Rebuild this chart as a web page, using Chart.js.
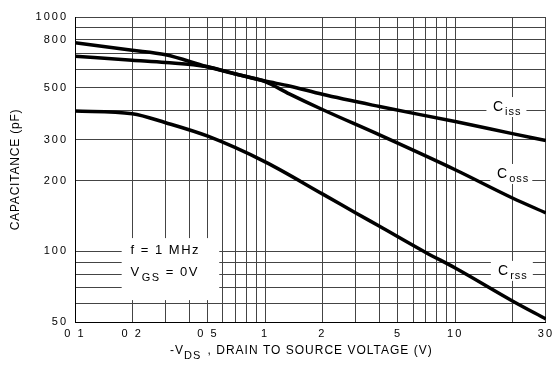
<!DOCTYPE html>
<html>
<head>
<meta charset="utf-8">
<script src="https://cdn.jsdelivr.net/npm/chart.js@4"></script>
<style>
  body { margin: 0; background: #fff; }
  #wrap { width: 557px; height: 367px; }
</style>
</head>
<body>
<div id="wrap"><canvas id="capChart" width="557" height="367"></canvas></div>
<script>
// curves (V, pF)
const issV = [0.1, 0.2, 0.3, 0.49, 0.7, 1, 1.34, 2, 4, 10, 20, 30];
const issC = [776, 722, 690, 615, 571, 533, 508, 468, 415, 358, 318, 297];
const ossV = [0.1, 0.2, 0.3, 0.49, 0.7, 1, 1.34, 2, 4, 10, 20, 30];
const ossC = [680, 654, 640, 615, 571, 530, 470, 403, 314, 223, 169, 146];
const rssV = [0.1, 0.2, 0.3, 0.5, 1, 2, 3, 4, 7, 10, 20, 30];
const rssC = [397, 387, 354, 310, 241, 176, 146, 128, 99, 85, 61.5, 51.5];

// grid and tick labels
const xGrid = [0.1, 0.2, 0.3, 0.4, 0.5, 0.6, 0.7, 0.8, 0.9, 1, 2, 3, 4, 5, 6, 7, 8, 9, 10, 20, 30];
const xTickVals = [0.1, 0.2, 0.5, 1, 2, 5, 10, 30];
const xTickText = ['0 1', '0 2', '0 5', '1', '2', '5', '10', '30'];
const yGrid = [50, 60, 70, 80, 90, 100, 200, 300, 400, 500, 600, 700, 800, 900, 1000];
const yTickVals = [50, 100, 200, 300, 500, 800, 1000];
const yTickText = ['50', '100', '200', '300', '500', '800', '1000'];

const FONT = '"Liberation Sans", Arial, Helvetica, sans-serif';

function pts(xs, ys) {
  return xs.map((v, i) => ({ x: v, y: ys[i] }));
}

function labelFor(vals, texts, v) {
  const i = vals.findIndex(t => Math.abs(t - v) < 1e-9);
  return i < 0 ? '' : texts[i];
}

function curve(data) {
  return {
    data: data,
    borderColor: '#000',
    borderWidth: 3.5,
    pointRadius: 0,
    fill: false,
    cubicInterpolationMode: 'monotone'
  };
}

// text with a subscript, left aligned at x, main text centred on y
function subText(ctx, x, y, main, sub, size, subSize, gap) {
  ctx.font = size + 'px ' + FONT;
  ctx.textAlign = 'left';
  ctx.textBaseline = 'middle';
  ctx.fillText(main, x, y);
  const w = ctx.measureText(main).width;
  ctx.font = subSize + 'px ' + FONT;
  ctx.fillText(sub, x + w + gap, y + 5);
  return x + w + gap + ctx.measureText(sub).width;
}

const spacingPlugin = {
  id: 'spacing',
  beforeDraw(chart) {
    chart.ctx.letterSpacing = '2px';
  }
};

const notesPlugin = {
  id: 'notes',
  beforeDatasetsDraw(chart) {
    const ctx = chart.ctx;
    const xs = chart.scales.x, ys = chart.scales.y;
    const px = v => xs.getPixelForValue(v);
    const py = v => ys.getPixelForValue(v);
    ctx.save();
    ctx.fillStyle = '#fff';
    // test conditions box
    ctx.fillRect(px(0.176), py(114), px(0.574) - px(0.176), py(62) - py(114));
    // curve label backgrounds
    ctx.fillRect(px(14.6), py(413) - 10, 40, 20);
    ctx.fillRect(px(15.3), py(214) - 10, 42, 20);
    ctx.fillRect(px(15.4), py(82.6) - 10, 42, 20);

    ctx.fillStyle = '#000';
    ctx.letterSpacing = '1px';
    subText(ctx, px(15.8), py(413), 'C', 'iss', 14, 11, 1);
    subText(ctx, px(16.6), py(214), 'C', 'oss', 14, 11, 1);
    subText(ctx, px(16.8), py(82.6), 'C', 'rss', 14, 11, 1);

    ctx.letterSpacing = '1.5px';
    ctx.font = '13px ' + FONT;
    ctx.textAlign = 'left';
    ctx.textBaseline = 'middle';
    ctx.fillText('f = 1 MHz', px(0.196), py(100.5));
    const e = subText(ctx, px(0.196), py(81), 'V', 'GS', 13, 11, 1);
    ctx.font = '13px ' + FONT;
    ctx.textBaseline = 'middle';
    ctx.fillText(' = 0V', e, py(81));
    ctx.restore();
  },
  afterDraw(chart) {
    const ctx = chart.ctx;
    const ca = chart.chartArea;
    ctx.save();
    ctx.fillStyle = '#000';
    ctx.letterSpacing = '0.8px';
    // y title
    ctx.save();
    ctx.translate(16, (ca.top + ca.bottom) / 2);
    ctx.rotate(-Math.PI / 2);
    ctx.font = '12px ' + FONT;
    ctx.textAlign = 'center';
    ctx.textBaseline = 'middle';
    ctx.fillText('CAPACITANCE (pF)', 0, 0);
    ctx.restore();
    // x title
    ctx.letterSpacing = '1px';
    let x = subText(ctx, 170, 351, '-V', 'DS', 12, 11, 0);
    ctx.font = '12px ' + FONT;
    ctx.textBaseline = 'middle';
    ctx.fillText(' , DRAIN TO SOURCE VOLTAGE (V)', x + 2, 351);
    ctx.restore();
  }
};

new Chart(document.getElementById('capChart'), {
  type: 'line',
  data: {
    datasets: [curve(pts(issV, issC)), curve(pts(ossV, ossC)), curve(pts(rssV, rssC))]
  },
  options: {
    responsive: false,
    animation: false,
    events: [],
    layout: { padding: { left: 0, top: 17, right: 9, bottom: 0 } },
    plugins: { legend: { display: false }, tooltip: { enabled: false } },
    scales: {
      x: {
        type: 'logarithmic',
        min: 0.1,
        max: 30,
        afterBuildTicks: s => { s.ticks = xGrid.map(v => ({ value: v })); },
        afterFit: s => { s.height = 45; },
        grid: { color: '#444', lineWidth: 1, drawTicks: false },
        border: { color: '#000', width: 1 },
        ticks: {
          autoSkip: false,
          maxRotation: 0,
          padding: 5,
          color: '#000',
          font: { family: FONT, size: 11 },
          callback: v => labelFor(xTickVals, xTickText, v)
        }
      },
      y: {
        type: 'logarithmic',
        min: 50,
        max: 1000,
        afterBuildTicks: s => { s.ticks = yGrid.map(v => ({ value: v })); },
        afterFit: s => { s.width = 75; },
        grid: { color: '#444', lineWidth: 1, drawTicks: false },
        border: { color: '#000', width: 1 },
        ticks: {
          autoSkip: false,
          padding: 7,
          color: '#000',
          font: { family: FONT, size: 11 },
          callback: v => labelFor(yTickVals, yTickText, v)
        }
      }
    }
  },
  plugins: [spacingPlugin, notesPlugin]
});
</script>
</body>
</html>
